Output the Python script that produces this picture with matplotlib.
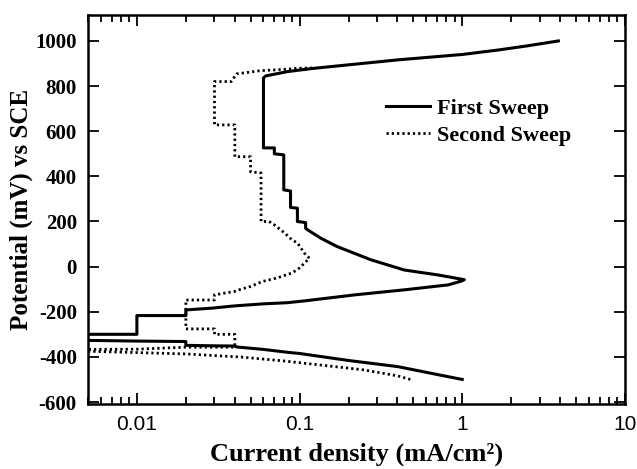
import numpy as np
import matplotlib.pyplot as plt
from matplotlib.ticker import LogLocator, NullFormatter, FixedLocator

# 第一次扫描 (solid) 电流密度 mA/cm2 与电位 mV
first_i = [1.0, 0.7, 0.4, 0.2, 0.1, 0.085, 0.06, 0.041, 0.04, 0.03, 0.02, 0.02,
           0.01, 0.005, 0.001, 0.001, 0.01, 0.01, 0.02, 0.02, 0.029, 0.04,
           0.06, 0.084, 0.107, 0.22, 0.44, 0.82, 0.98, 1.03, 0.71, 0.44, 0.275,
           0.17, 0.135, 0.112, 0.109, 0.109, 0.097, 0.097, 0.088, 0.088, 0.08,
           0.08, 0.07, 0.07, 0.06, 0.06, 0.062, 0.084, 0.12, 0.4, 1.0, 1.67,
           2.5, 3.9]
first_e = [-500, -478, -443, -416, -385, -380, -367, -356, -352, -351, -349, -332,
           -330, -327, -325, -300, -300, -217, -217, -192, -184, -174,
           -165, -160, -152, -125, -103, -81, -65, -58, -37, -15, 30,
           89, 126, 163, 170, 195, 200, 259, 262, 335, 340,
           495, 500, 526, 526, 836, 845, 864, 878, 916, 940, 960,
           978, 1000]

# 第二次扫描 (dotted)
second_i = [0.48, 0.4, 0.25, 0.13, 0.08, 0.044, 0.02, 0.01, 0.005, 0.001,
            0.001, 0.01, 0.02, 0.04, 0.04, 0.03, 0.03, 0.02, 0.02, 0.03, 0.03,
            0.04, 0.041, 0.05, 0.059, 0.073, 0.09, 0.1, 0.107, 0.115, 0.107,
            0.097, 0.09, 0.081, 0.07, 0.065, 0.058, 0.058, 0.05, 0.05, 0.04,
            0.04, 0.03, 0.03, 0.038, 0.041, 0.057, 0.08, 0.098, 0.12]
second_e = [-500, -484, -458, -435, -418, -401, -387, -381, -375, -374,
            -368, -366, -357, -357, -300, -300, -276, -276, -148, -148, -125,
            -110, -106, -88, -66, -50, -28, -6, 15, 37, 60,
            105, 118, 149, 185, 200, 200, 415, 420, 487, 487,
            628, 628, 820, 820, 854, 868, 874, 879, 880]

y_ticks = [-600, -400, -200, 0, 200, 400, 600, 800, 1000]
x_ticks = [0.01, 0.1, 1, 10]
x_labels = ['0.01', '0.1', '1', '10']

serif = ['Liberation Serif', 'DejaVu Serif']
sans = ['Liberation Sans', 'DejaVu Sans']

fig = plt.figure(figsize=(6.37, 4.69), dpi=100)
ax = fig.add_axes([0.138, 0.139, 0.843, 0.830])

ax.plot(first_i, first_e, color='black', lw=2.2, label='First Sweep')
ax.plot(second_i, second_e, color='black', lw=2.0, linestyle=(0, (0.8, 1.1)),
        label='Second Sweep')

ax.set_xscale('log')
ax.set_xlim(0.005, 10)
ax.set_ylim(-608, 1117)

ax.xaxis.set_major_locator(FixedLocator(x_ticks))
ax.set_xticklabels(x_labels, family=sans, fontsize=15)
ax.xaxis.set_minor_locator(LogLocator(base=10, subs=np.arange(2, 10)))
ax.xaxis.set_minor_formatter(NullFormatter())
ax.set_yticks(y_ticks)
ax.set_yticklabels([str(v) for v in y_ticks], family=serif, fontsize=15,
                   fontweight='bold')

ax.tick_params(which='both', direction='in', top=True, right=True, width=1.3)
ax.tick_params(which='major', length=8, pad=8)
ax.tick_params(which='minor', length=5)
for s in ax.spines.values():
    s.set_linewidth(1.8)

ax.set_xlabel('Current density (mA/cm\u00b2)', family=serif,
              fontsize=19, fontweight='bold', labelpad=6)
ax.set_ylabel('Potential (mV) vs SCE', family=serif, fontsize=18,
              fontweight='bold', labelpad=2)

leg = ax.legend(loc='upper left', bbox_to_anchor=(0.555, 0.785), frameon=False,
                prop={'family': serif, 'weight': 'bold', 'size': 16},
                handlelength=2.0, handletextpad=0.3, borderpad=0,
                borderaxespad=0, labelspacing=0.3)

fig.savefig('out.png', dpi=100)
